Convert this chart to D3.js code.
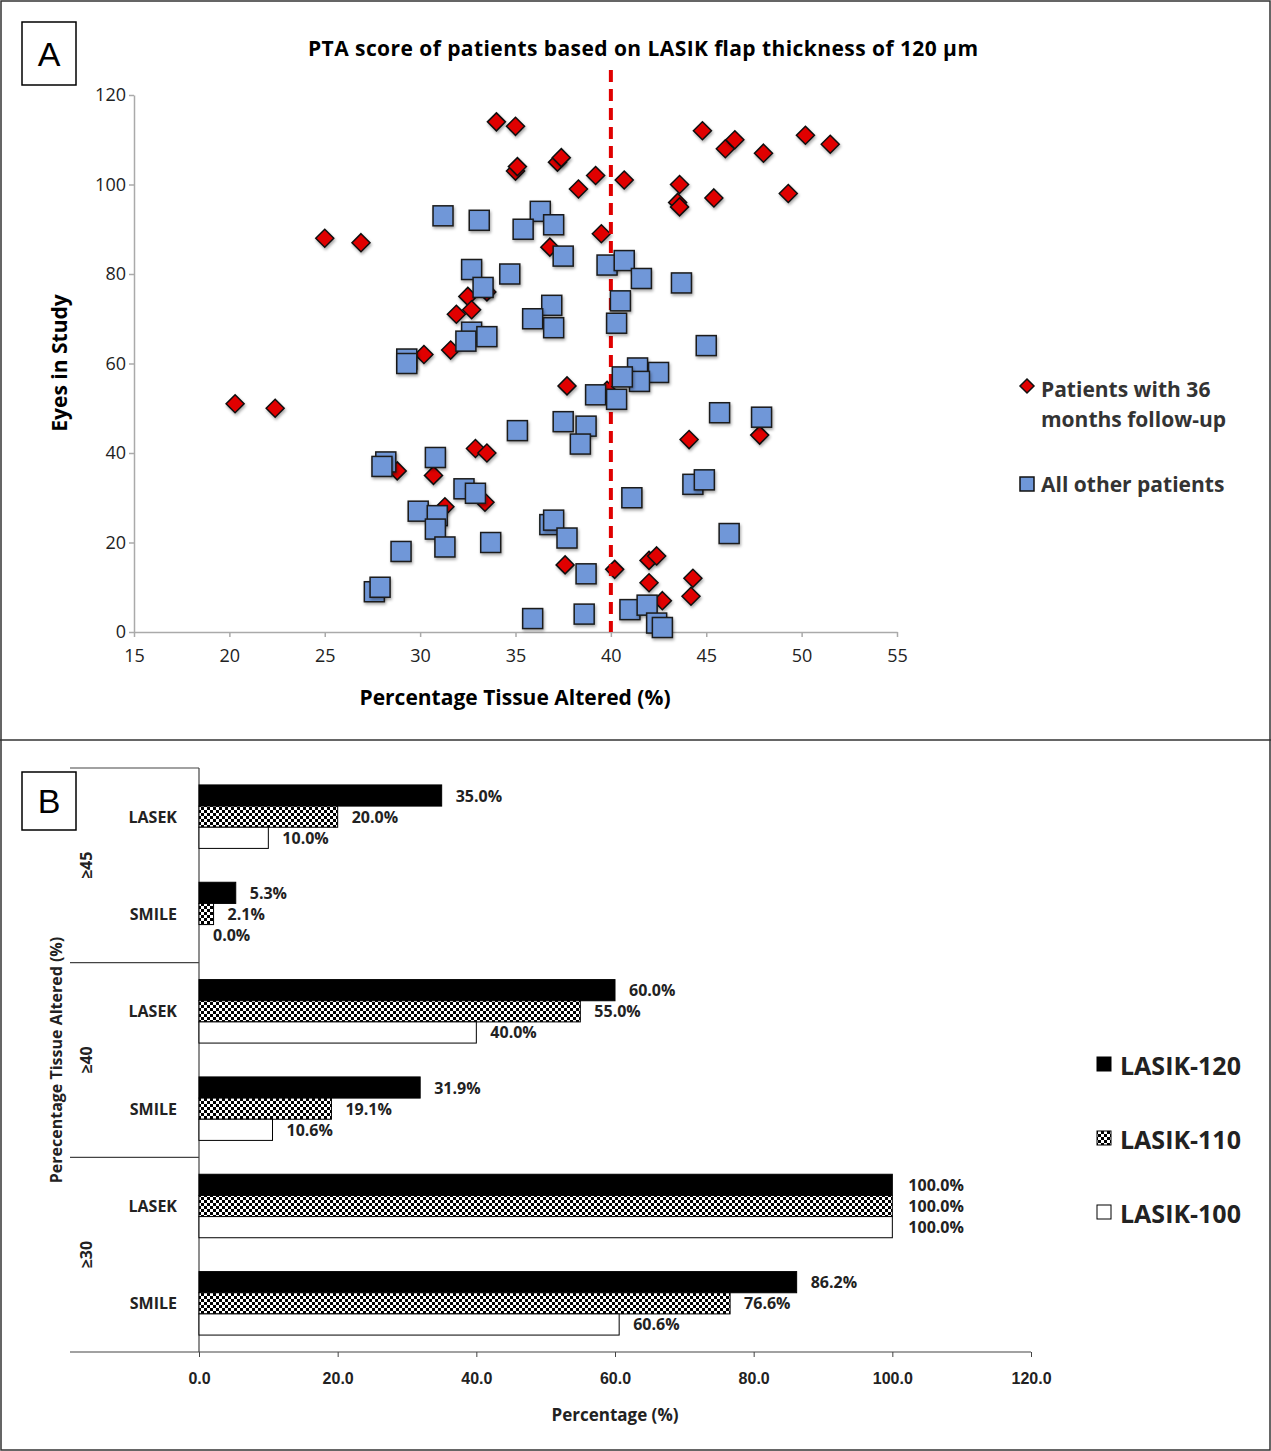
<!DOCTYPE html>
<html><head><meta charset="utf-8">
<script src="https://cdn.jsdelivr.net/npm/d3@7"></script>
<style>body{margin:0;background:#fff;font-family:"Open Sans",sans-serif}</style>
</head><body>
<script>
// Panel A data: [percentage tissue altered, eye index]
const followUp36 = [[34.0,114],[35.0,113],[35.0,103],[35.1,104],[37.2,105],[37.4,106],[39.2,102],[38.3,99],[40.7,101],[43.6,100],[43.5,96],[43.6,95],[45.4,97],[44.8,112],[46.0,108],[46.5,110],[48.0,107],[50.2,111],[51.5,109],[49.3,98],[25.0,88],[26.9,87],[39.5,89],[36.8,86],[32.5,75],[33.5,76],[32.7,72],[31.9,71],[31.6,63],[30.2,62],[37.7,55],[39.8,54],[20.3,51],[22.4,50],[44.1,43],[47.8,44],[32.9,41],[33.5,40],[28.8,36],[30.7,35],[31.3,28],[33.4,29],[37.6,15],[40.2,14],[42.0,16],[42.4,17],[42.0,11],[44.3,12],[42.7,7],[44.2,8]];
const otherPatients = [[31.2,93],[33.1,92],[36.3,94],[35.4,90],[37.0,91],[32.7,81],[34.7,80],[37.5,84],[39.8,82],[40.7,83],[41.6,79],[43.7,78],[33.3,77],[36.9,73],[40.5,74],[35.9,70],[37.0,68],[40.3,69],[32.7,67],[32.4,65],[33.5,66],[29.3,61],[29.3,60],[45.0,64],[41.4,59],[42.5,58],[41.5,56],[40.6,57],[39.2,53],[40.3,52],[45.7,49],[47.9,48],[37.5,47],[38.7,46],[35.1,45],[38.4,42],[30.8,39],[28.2,38],[28.0,37],[44.3,33],[44.9,34],[41.1,30],[32.3,32],[32.9,31],[29.9,27],[30.9,26],[30.8,23],[31.3,19],[33.7,20],[36.8,24],[37.0,25],[37.7,21],[46.2,22],[29.0,18],[38.7,13],[27.6,9],[27.9,10],[35.9,3],[38.6,4],[41.0,5],[41.9,6],[42.4,2],[42.7,1]];
const thresholdPTA = 40;

// Panel B data
const procedures = ["LASEK","SMILE","LASEK","SMILE","LASEK","SMILE"];
const ptaGroups = ["≥45","≥40","≥30"];
const seriesNames = ["LASIK-120","LASIK-110","LASIK-100"];
const lasik120 = [35.0,5.3,60.0,31.9,100.0,86.2];
const lasik110 = [20.0,2.1,55.0,19.1,100.0,76.6];
const lasik100 = [10.0,0.0,40.0,10.6,100.0,60.6];

const W = 1271, H = 1451;
const svg = d3.select("body").append("svg").attr("width", W).attr("height", H);
const defs = svg.append("defs");
const pat = defs.append("pattern").attr("id","checker").attr("width",6).attr("height",6).attr("patternUnits","userSpaceOnUse");
pat.append("rect").attr("width",6).attr("height",6).attr("fill","#fff");
pat.append("rect").attr("width",3).attr("height",3).attr("fill","#000");
pat.append("rect").attr("x",3).attr("y",3).attr("width",3).attr("height",3).attr("fill","#000");
const sh = defs.append("filter").attr("id","shadow").attr("x","-50%").attr("y","-50%").attr("width","200%").attr("height","200%");
sh.append("feDropShadow").attr("dx",1).attr("dy",2).attr("stdDeviation",1.5).attr("flood-opacity",0.35);

// frames
svg.append("rect").attr("x",1).attr("y",1).attr("width",W-2).attr("height",H-2).attr("fill","none").attr("stroke","#333").attr("stroke-width",1.5);
svg.append("line").attr("x1",0).attr("x2",W).attr("y1",740).attr("y2",740).attr("stroke","#333").attr("stroke-width",1.5);
[["A",22,22,54,63],["B",22,772,54,58]].forEach(([t,x,y,w,h])=>{
  svg.append("rect").attr("x",x).attr("y",y).attr("width",w).attr("height",h).attr("fill","#fff").attr("stroke","#000").attr("stroke-width",1.5);
  svg.append("text").attr("x",x+w/2).attr("y",y+h/2+12).attr("text-anchor","middle").attr("font-size",34).attr("font-family","Arial,Liberation Sans,sans-serif").text(t);
});

// ---- Panel A ----
const x = d3.scaleLinear().domain([15,55]).range([134,897]);
const y = d3.scaleLinear().domain([0,120]).range([632,95]);
const axCol = "#aaa";
const gx = svg.append("g").attr("transform","translate(0,632)").call(d3.axisBottom(x).tickValues(d3.range(15,56,5)).tickSize(5).tickSizeOuter(0));
const gy = svg.append("g").attr("transform","translate(134,0)").call(d3.axisLeft(y).tickValues(d3.range(0,121,20)).tickSize(5).tickSizeOuter(0));
[gx,gy].forEach(g=>{g.selectAll("path,line").attr("stroke",axCol).attr("stroke-width",1.5);
  g.selectAll("text").attr("font-size",18).attr("fill","#222").attr("font-family","Open Sans,sans-serif");});
gx.selectAll("text").attr("dy","1.2em");
svg.append("text").attr("x",643).attr("y",56).attr("text-anchor","middle").attr("font-size",21).attr("font-weight","bold").attr("textLength",670).text("PTA score of patients based on LASIK flap thickness of 120 µm");
svg.append("text").attr("x",515).attr("y",705).attr("text-anchor","middle").attr("font-size",21).attr("font-weight","bold").text("Percentage Tissue Altered (%)");
svg.append("text").attr("transform","translate(67,363) rotate(-90)").attr("text-anchor","middle").attr("font-size",21).attr("font-weight","bold").text("Eyes in Study");

const diamond = s=>`M0,${-s}L${s},0L0,${s}L${-s},0Z`;
svg.append("g").selectAll("path").data(followUp36).join("path")
  .attr("d",diamond(9)).attr("transform",d=>`translate(${x(d[0])},${y(d[1])})`)
  .attr("fill","#e00000").attr("stroke","#111").attr("stroke-width",1.5).attr("filter","url(#shadow)");
svg.append("line").attr("x1",x(thresholdPTA)).attr("x2",x(thresholdPTA)).attr("y1",70).attr("y2",632)
  .attr("stroke","#e00000").attr("stroke-width",4).attr("stroke-dasharray","12,7");
svg.append("g").selectAll("rect").data(otherPatients).join("rect")
  .attr("x",d=>x(d[0])-10).attr("y",d=>y(d[1])-10).attr("width",20).attr("height",20)
  .attr("fill","#6f97d8").attr("stroke","#1a1a1a").attr("stroke-width",1.5).attr("filter","url(#shadow)");

// legend A
svg.append("path").attr("d",diamond(7)).attr("transform","translate(1027,386)").attr("fill","#e00000").attr("stroke","#111").attr("stroke-width",1.5);
svg.append("text").attr("x",1041).attr("y",397).attr("font-size",21).attr("font-weight","bold").attr("fill","#333").text("Patients with 36");
svg.append("text").attr("x",1041).attr("y",427).attr("font-size",21).attr("font-weight","bold").attr("fill","#333").text("months follow-up");
svg.append("rect").attr("x",1020).attr("y",477).attr("width",14).attr("height",14).attr("fill","#6f97d8").attr("stroke","#111").attr("stroke-width",1.5);
svg.append("text").attr("x",1041).attr("y",492).attr("font-size",21).attr("font-weight","bold").attr("fill","#333").text("All other patients");

// ---- Panel B ----
const xb = d3.scaleLinear().domain([0,120]).range([199,1031]);
const yb = d3.scaleBand().domain(d3.range(procedures.length)).range([768,1352]);
const sub = d3.scaleBand().domain(seriesNames).range([0,yb.bandwidth()]).paddingInner(0).paddingOuter(0.8);
const fills = ["#000","url(#checker)","#fff"];
const series = [lasik120,lasik110,lasik100];
const gb = svg.append("g").attr("transform","translate(0,1352)").call(d3.axisBottom(xb).tickValues(d3.range(0,121,20)).tickFormat(d3.format(".1f")).tickSize(5).tickSizeOuter(0));
gb.select(".domain").remove();
gb.selectAll("line").attr("stroke","#444");
gb.selectAll("text").attr("font-size",16).attr("font-weight","bold").attr("fill","#222").attr("dy","1.5em");
svg.append("line").attr("x1",70).attr("x2",1031).attr("y1",1352).attr("y2",1352).attr("stroke","#444").attr("stroke-width",1.2);
svg.append("line").attr("x1",199).attr("x2",199).attr("y1",768).attr("y2",1352).attr("stroke","#444").attr("stroke-width",1.2);
[2,4].forEach(i=>svg.append("line").attr("x1",70).attr("x2",199).attr("y1",yb(i)).attr("y2",yb(i)).attr("stroke","#444").attr("stroke-width",1.2));
svg.append("line").attr("x1",70).attr("x2",199).attr("y1",768).attr("y2",768).attr("stroke","#444").attr("stroke-width",1.2);

procedures.forEach((p,i)=>{
  svg.append("text").attr("x",177).attr("y",yb(i)+yb.bandwidth()/2+6).attr("text-anchor","end").attr("font-size",16).attr("font-weight","bold").attr("fill","#222").text(p);
  series.forEach((s,k)=>{
    const yy = yb(i)+sub(seriesNames[k]);
    svg.append("rect").attr("x",xb(0)).attr("y",yy).attr("width",xb(s[i])-xb(0)).attr("height",sub.bandwidth())
      .attr("fill",fills[k]).attr("stroke","#000").attr("stroke-width",1);
    svg.append("text").attr("x",xb(s[i])+(s[i]>=99?16:14)).attr("y",yy+sub.bandwidth()/2+6).attr("font-size",16).attr("font-weight","bold").attr("fill","#222").text(s[i].toFixed(1)+"%");
  });
});
ptaGroups.forEach((g,j)=>{
  const cy = (yb(2*j)+yb(2*j+1)+yb.bandwidth())/2;
  svg.append("text").attr("transform",`translate(92,${cy}) rotate(-90)`).attr("text-anchor","middle").attr("font-size",16).attr("font-weight","bold").attr("fill","#222").text(g);
});
svg.append("text").attr("transform","translate(62,1060) rotate(-90)").attr("text-anchor","middle").attr("font-size",16).attr("font-weight","bold").attr("fill","#222").text("Perecentage Tissue Altered (%)");
svg.append("text").attr("x",615).attr("y",1421).attr("text-anchor","middle").attr("font-size",17).attr("font-weight","bold").attr("fill","#222").text("Percentage (%)");

seriesNames.forEach((n,k)=>{
  const cy = 1065 + k*74;
  svg.append("rect").attr("x",1097).attr("y",cy-8).attr("width",14).attr("height",14).attr("fill",fills[k]).attr("stroke","#000");
  svg.append("text").attr("x",1120).attr("y",cy+10).attr("font-size",25).attr("font-weight","bold").attr("fill","#222").text(n);
});
</script>
</body></html>
